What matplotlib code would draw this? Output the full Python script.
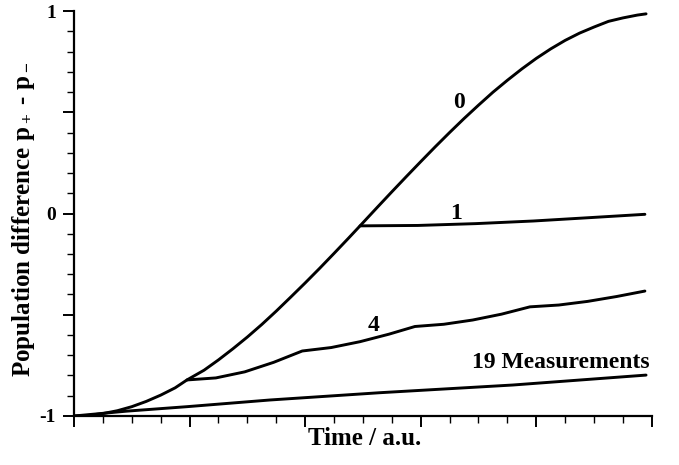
import matplotlib
matplotlib.use('Agg')
import matplotlib.pyplot as plt
from matplotlib.ticker import MultipleLocator

# values (time in tick units, 20 ticks on the axis)
t_free = [0.0, 0.5, 1.0, 1.5, 2.0, 2.5, 3.0, 3.5, 3.91, 4.5, 5.0, 5.5, 6.0, 6.5, 7.0,
          7.5, 8.0, 8.5, 9.0, 9.5, 9.9, 10.5, 11.0, 11.5, 12.0, 12.5, 13.0, 13.5, 14.0,
          14.5, 15.0, 15.5, 16.0, 16.5, 17.0, 17.5, 18.0, 18.5, 19.0, 19.5, 19.8]
p_free = [-1.0, -0.997, -0.988, -0.974, -0.954, -0.928, -0.897, -0.861, -0.822, -0.774,
          -0.723, -0.668, -0.610, -0.548, -0.482, -0.413, -0.343, -0.271, -0.197, -0.122,
          -0.061, 0.031, 0.107, 0.182, 0.256, 0.329, 0.400, 0.469, 0.535, 0.599, 0.658,
          0.714, 0.766, 0.813, 0.855, 0.891, 0.921, 0.949, 0.966, 0.980, 0.986]

t_one = [9.9, 11.9, 13.9, 15.9, 17.9, 19.76]
p_one = [-0.061, -0.059, -0.050, -0.037, -0.020, -0.004]

t_four = [3.91, 4.91, 5.91, 6.91, 7.90, 8.9, 9.9, 10.9, 11.80, 12.8, 13.8, 14.8, 15.78,
          16.78, 17.78, 18.78, 19.76]
p_four = [-0.822, -0.812, -0.782, -0.735, -0.679, -0.662, -0.633, -0.596, -0.558,
          -0.547, -0.526, -0.497, -0.461, -0.452, -0.434, -0.410, -0.383]

t_nineteen = [0.0, 1.83, 3.91, 6.78, 10.59, 15.19, 19.8]
p_nineteen = [-1.0, -0.976, -0.954, -0.921, -0.885, -0.847, -0.798]

plt.rcParams['font.family'] = ['Liberation Serif', 'DejaVu Serif']
plt.rcParams['font.weight'] = 'bold'
plt.rcParams['mathtext.fontset'] = 'custom'
plt.rcParams['mathtext.rm'] = 'Liberation Serif:bold'
plt.rcParams['mathtext.it'] = 'Liberation Serif:bold'
plt.rcParams['mathtext.bf'] = 'Liberation Serif:bold'

fig = plt.figure(figsize=(6.79, 4.65), dpi=100)
ax = fig.add_axes([0.109, 0.1054, 0.851, 0.8709])

lw = 2.1
for t, p in [(t_free, p_free), (t_one, p_one), (t_four, p_four), (t_nineteen, p_nineteen)]:
    ax.plot(t, p, color='black', lw=lw, solid_joinstyle='round', solid_capstyle='round')

ax.set_xlim(0, 20)
ax.set_ylim(-1, 1)
for s in ['top', 'right']:
    ax.spines[s].set_visible(False)
for s in ['left', 'bottom']:
    ax.spines[s].set_linewidth(1.6)

ax.xaxis.set_major_locator(MultipleLocator(4))
ax.xaxis.set_minor_locator(MultipleLocator(1))
ax.set_xticklabels([])
ax.yaxis.set_minor_locator(MultipleLocator(0.1))
ax.set_yticks([-1, -0.5, 0, 0.5, 1])
ax.set_yticklabels(['-1', '', '0', '', '1'])
ax.tick_params(which='major', direction='out', length=8, width=1.4, labelsize=14, pad=5)
ax.tick_params(which='minor', direction='out', length=5, width=1.0)

fs = 17
ax.text(13.32, 0.521, '0', fontsize=fs, ha='center', va='baseline', fontweight='bold')
ax.text(13.24, -0.027, '1', fontsize=fs, ha='center', va='baseline', fontweight='bold')
ax.text(10.38, -0.580, '4', fontsize=fs, ha='center', va='baseline', fontweight='bold')
ax.text(19.93, -0.761, '19 Measurements', fontsize=fs, ha='right', va='baseline',
        fontweight='bold')

fig.text(365 / 679, 1 - 438 / 465, 'Time / a.u.', fontsize=18, ha='center', va='center',
         fontweight='bold')
fig.text(24 / 679, 1 - 219 / 465, 'Population difference p$_+$ - p$_-$', fontsize=18,
         ha='center', va='center', rotation=90, fontweight='bold')

fig.savefig('out.png', dpi=100)
